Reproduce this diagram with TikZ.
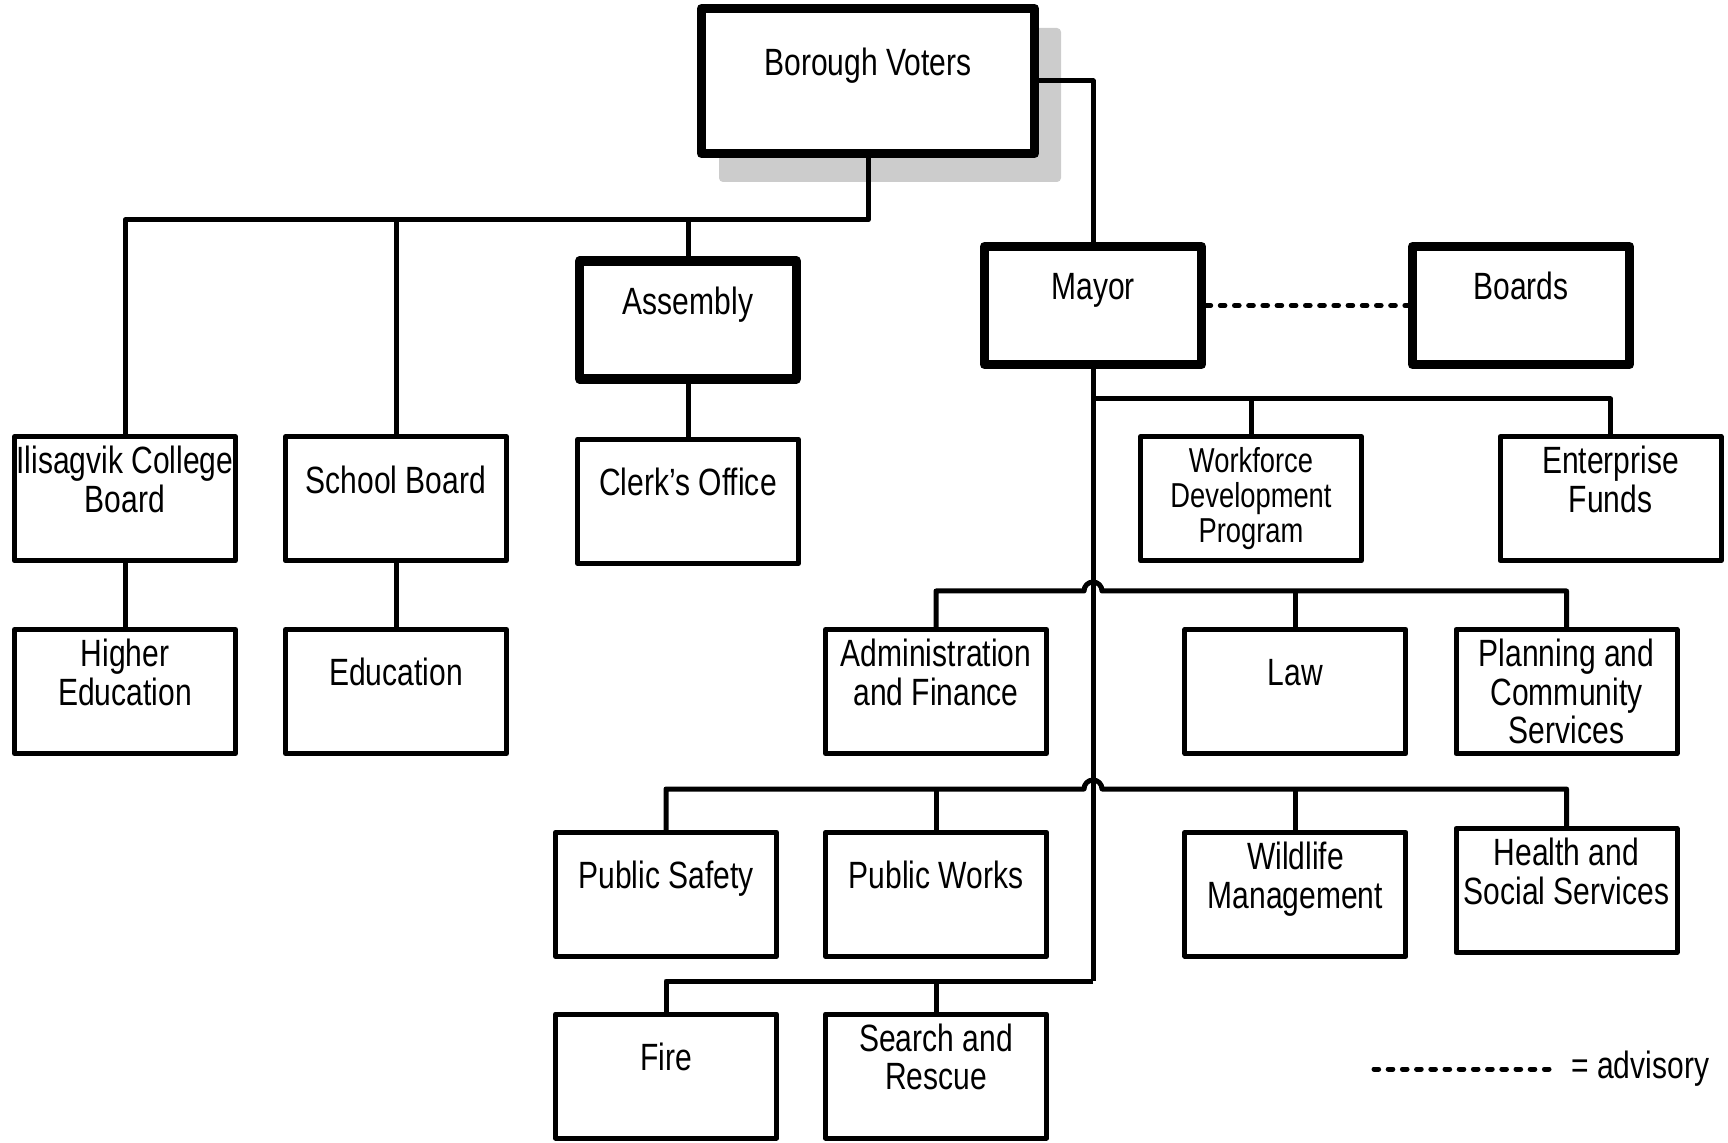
\documentclass[tikz,border=0pt]{standalone}
\usepackage{fontspec}
\setmainfont{Liberation Sans}[FakeStretch=0.79]
\begin{document}
\begin{tikzpicture}[x=0.5pt,y=-0.5pt,
  txt/.style={font=\fontsize{19}{19.3}\selectfont, align=center},
  box/.style={txt, draw, line width=2.5pt, line join=round, fill=white, inner sep=0pt,
              minimum width=110.5pt, minimum height=62pt},
  thickbox/.style={box, line width=4.6pt, minimum width=108.5pt, minimum height=59pt},
  conn/.style={line width=2.5pt, line join=round},
  advisory/.style={line width=2.5pt, line cap=round, dash pattern=on 2.3pt off 4.8pt}
]
\useasboundingbox (0,0) rectangle (1728,1143);
% shadow of the top box
\fill[black!20, rounded corners=2pt] (719,28) rectangle (1061,182);
% top level
\node[thickbox, minimum width=166.5pt, minimum height=72.5pt] (bv) at (868,81) {Borough Voters\\\mbox{}};
\node[thickbox] (assembly) at (688,320) {Assembly\\\mbox{}};
\node[thickbox] (mayor) at (1093,305.5) {Mayor\\\mbox{}};
\node[thickbox] (boards) at (1521,305.5) {Boards\\\mbox{}};
% second row
\node[box] (ilis) at (125,498.7) {Ilisagvik College\\Board\\\mbox{}};
\node[box] (school) at (396,498.7) {School Board\\\mbox{}};
\node[box] (clerk) at (688,501.4) {Clerk’s Office\\\mbox{}};
\node[box, font=\fontsize{17.3}{17.6}\selectfont] (workforce) at (1251,498.7) {Workforce\\Development\\Program};
\node[box] (enterprise) at (1610.6,498.7) {Enterprise\\Funds\\\mbox{}};
% third row
\node[box] (higher) at (125,691.5) {Higher\\Education\\\mbox{}};
\node[box] (education) at (396,691.5) {Education\\\mbox{}};
\node[box] (admin) at (936,691.5) {Administration\\and Finance\\\mbox{}};
\node[box] (law) at (1295.4,691.5) {Law\\\mbox{}};
\node[box] (planning) at (1566.5,691.5) {Planning and\\Community\\Services};
% fourth row
\node[box] (psafety) at (666,894.3) {Public Safety\\\mbox{}};
\node[box] (pworks) at (936,894.3) {Public Works\\\mbox{}};
\node[box] (wildlife) at (1295.4,894.3) {Wildlife\\Management\\\mbox{}};
\node[box] (health) at (1566.5,890.4) {Health and\\Social Services\\\mbox{}};
% fifth row
\node[box] (fire) at (666,1076) {Fire\\\mbox{}};
\node[box] (search) at (936,1076) {Search and\\Rescue\\\mbox{}};
% bus levels
\coordinate (busA) at (0,220);
\coordinate (busB) at (0,399);
\coordinate (busC) at (0,591);
\coordinate (busD) at (0,789);
\coordinate (busE) at (0,981);
\coordinate (mC) at (mayor.south |- busC);
\coordinate (mD) at (mayor.south |- busD);
% voters to elected bodies
\draw[conn] (bv.south) -- (bv.south |- busA) -| (ilis.north);
\draw[conn] (school.north) -- (school.north |- busA);
\draw[conn] (assembly.north) -- (assembly.north |- busA);
\draw[conn] (bv.east) -| (mayor.north);
\draw[conn] (ilis.south) -- (higher.north);
\draw[conn] (school.south) -- (education.north);
\draw[conn] (assembly.south) -- (clerk.north);
% mayor trunk
\draw[conn] (mayor.south) -- (mayor.south |- busE);
\draw[conn] (mayor.south |- busB) -| (enterprise.north);
\draw[conn] (workforce.north) -- (workforce.north |- busB);
\draw[conn] (admin.north) -- (admin.north |- busC) -- ([xshift=-4.5pt]mC)
  arc[start angle=180, end angle=0, radius=4.5pt] -| (planning.north);
\draw[conn] (law.north) -- (law.north |- busC);
\draw[conn] (psafety.north) -- (psafety.north |- busD) -- ([xshift=-4.5pt]mD)
  arc[start angle=180, end angle=0, radius=4.5pt] -| (health.north);
\draw[conn] (pworks.north) -- (pworks.north |- busD);
\draw[conn] (wildlife.north) -- (wildlife.north |- busD);
\draw[conn] (mayor.south |- busE) -| (fire.north);
\draw[conn] (search.north) -- (search.north |- busE);
% advisory
\draw[advisory] (mayor.east) -- (boards.west);
% legend
\coordinate (l1) at (1374,1069);
\coordinate (l2) at (1557,1069);
\draw[advisory] (l1) -- (l2);
\node[txt, anchor=west, inner sep=0pt] (legend) at (1571,1069) {= advisory};
\end{tikzpicture}
\end{document}
